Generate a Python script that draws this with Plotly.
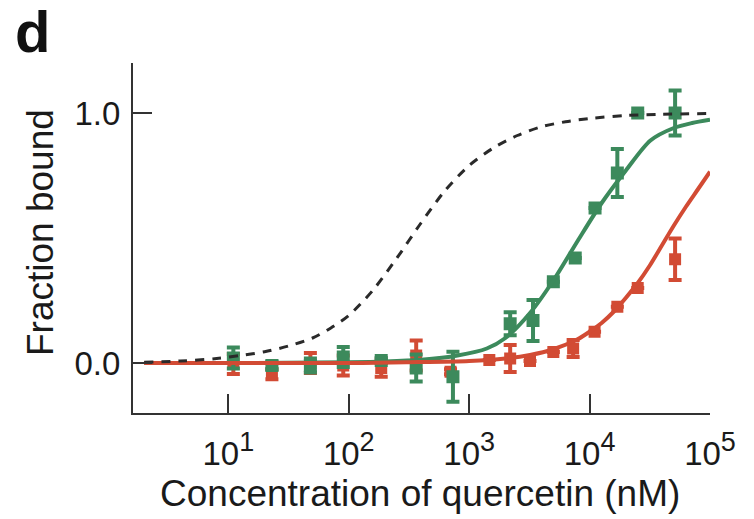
import plotly.graph_objects as go

# ---- data ----
green_conc = [11, 23, 48, 90, 186, 363, 733, 2190, 3390, 5000, 7600, 11100, 17000, 25100, 51300]
green_frac = [0.02, -0.01, -0.01, 0.024, 0.01, -0.02, -0.055, 0.157, 0.17, 0.325, 0.42, 0.62, 0.76, 1.0, 1.0]
green_err = [0.042, 0.015, 0.028, 0.04, 0.01, 0.054, 0.10, 0.046, 0.082, 0, 0, 0, 0.096, 0, 0.09]

red_conc = [11, 23, 48, 90, 186, 363, 700, 1470, 2190, 3200, 5000, 7300, 11000, 17000, 25100, 51300]
red_frac = [-0.004, -0.045, 0.0, -0.01, -0.02, 0.03, -0.035, 0.012, 0.018, 0.008, 0.044, 0.058, 0.125, 0.225, 0.30, 0.415]
red_err = [0.04, 0.02, 0.04, 0.04, 0.035, 0.06, 0.01, 0, 0.054, 0, 0, 0.034, 0, 0, 0, 0.083]

dash_conc = [2, 4, 8, 12.6, 20, 31.6, 50, 71, 100, 158, 251, 398, 631, 1000, 1585, 2512, 3981, 6310, 10000, 19950, 39800, 100000]
dash_frac = [0.003, 0.008, 0.018, 0.03, 0.045, 0.068, 0.10, 0.14, 0.19, 0.29, 0.42, 0.56, 0.69, 0.79, 0.86, 0.91, 0.945, 0.965, 0.978, 0.99, 0.995, 0.998]

gfit_conc = [2, 10, 30, 100, 200, 400, 800, 1400, 2000, 3200, 5000, 8000, 12600, 20000, 32000, 50000, 71000, 100000]
gfit_frac = [0.0, 0.0, 0.001, 0.003, 0.006, 0.013, 0.03, 0.058, 0.10, 0.20, 0.33, 0.49, 0.64, 0.77, 0.89, 0.94, 0.96, 0.973]

rfit_conc = [2, 100, 300, 1000, 2000, 3200, 5000, 7943, 10000, 12589, 15849, 19953, 25119, 31623, 39811, 50119, 63096, 79433, 100000]
rfit_frac = [0.0, 0.0, 0.003, 0.008, 0.018, 0.032, 0.055, 0.095, 0.125, 0.16, 0.205, 0.26, 0.32, 0.39, 0.47, 0.55, 0.625, 0.695, 0.765]

x_tickvals = [10, 100, 1000, 10000, 100000]
x_exponents = ["1", "2", "3", "4", "5"]
y_tickvals = [0, 1, 1.2]
y_ticktext = ["0.0", "1.0", ""]

GREEN = "#3c8a5c"
RED = "#d24b34"
AXIS = "#333333"
TEXT = "#1a1a1a"
FONT = "Liberation Sans, Arial, Helvetica, sans-serif"

x_ticktext = ['10<sup><span style="font-size:27px">%s</span></sup>' % e for e in x_exponents]

fig = go.Figure()

fig.add_trace(go.Scatter(
    x=red_conc, y=red_frac, mode="markers",
    marker=dict(symbol="square", size=12, color=RED, line=dict(width=0)),
    error_y=dict(type="data", array=red_err, visible=True, color=RED, thickness=4, width=6.5),
    showlegend=False, hoverinfo="skip"))

fig.add_trace(go.Scatter(
    x=green_conc, y=green_frac, mode="markers",
    marker=dict(symbol="square", size=13, color=GREEN, line=dict(width=0)),
    error_y=dict(type="data", array=green_err, visible=True, color=GREEN, thickness=4, width=6.5),
    showlegend=False, hoverinfo="skip"))

fig.add_trace(go.Scatter(
    x=gfit_conc, y=gfit_frac, mode="lines", line=dict(color=GREEN, width=4, shape="spline", smoothing=0.8),
    showlegend=False, hoverinfo="skip"))

fig.add_trace(go.Scatter(
    x=rfit_conc, y=rfit_frac, mode="lines", line=dict(color=RED, width=4, shape="spline", smoothing=0.8),
    showlegend=False, hoverinfo="skip"))

fig.add_trace(go.Scatter(
    x=dash_conc, y=dash_frac, mode="lines", line=dict(color="#2a2a2a", width=3, dash="9px,8px", shape="spline", smoothing=0.8),
    showlegend=False, hoverinfo="skip"))

fig.update_layout(
    width=754, height=519,
    margin=dict(l=133, r=44, t=63, b=106),
    paper_bgcolor="white", plot_bgcolor="white",
    font=dict(family=FONT, color=TEXT),
    xaxis=dict(
        type="log", range=[0.208, 5],
        showline=True, linecolor=AXIS, linewidth=2,
        ticks="inside", ticklen=19, tickwidth=2, tickcolor=AXIS,
        tickvals=x_tickvals, ticktext=x_ticktext,
        tickfont=dict(size=33, family=FONT, color=TEXT),
        ticklabelstandoff=10,
        showgrid=False, zeroline=False),
    yaxis=dict(
        range=[-0.2, 1.2],
        showline=True, linecolor=AXIS, linewidth=2,
        ticks="inside", ticklen=19, tickwidth=2, tickcolor=AXIS,
        tickvals=y_tickvals, ticktext=y_ticktext,
        tickfont=dict(size=33, family=FONT, color=TEXT),
        ticklabelstandoff=4,
        showgrid=False, zeroline=False),
    annotations=[
        dict(text="Fraction bound", xref="paper", yref="paper", x=0, y=0.5,
             xshift=-93, yshift=5, xanchor="center", yanchor="middle", textangle=-90,
             showarrow=False, font=dict(size=37, family=FONT, color=TEXT)),
        dict(text="Concentration of quercetin (nM)", xref="paper", yref="paper", x=0.497, y=0,
             yshift=-80, xanchor="center", yanchor="middle",
             showarrow=False, font=dict(size=37, family=FONT, color=TEXT)),
        dict(text="<b>d</b>", xref="paper", yref="paper", x=0, y=1,
             xshift=-120, yshift=32, xanchor="left", yanchor="middle",
             showarrow=False, font=dict(size=58, family=FONT, color="#111111")),
    ],
)

fig.write_html("out.html")
